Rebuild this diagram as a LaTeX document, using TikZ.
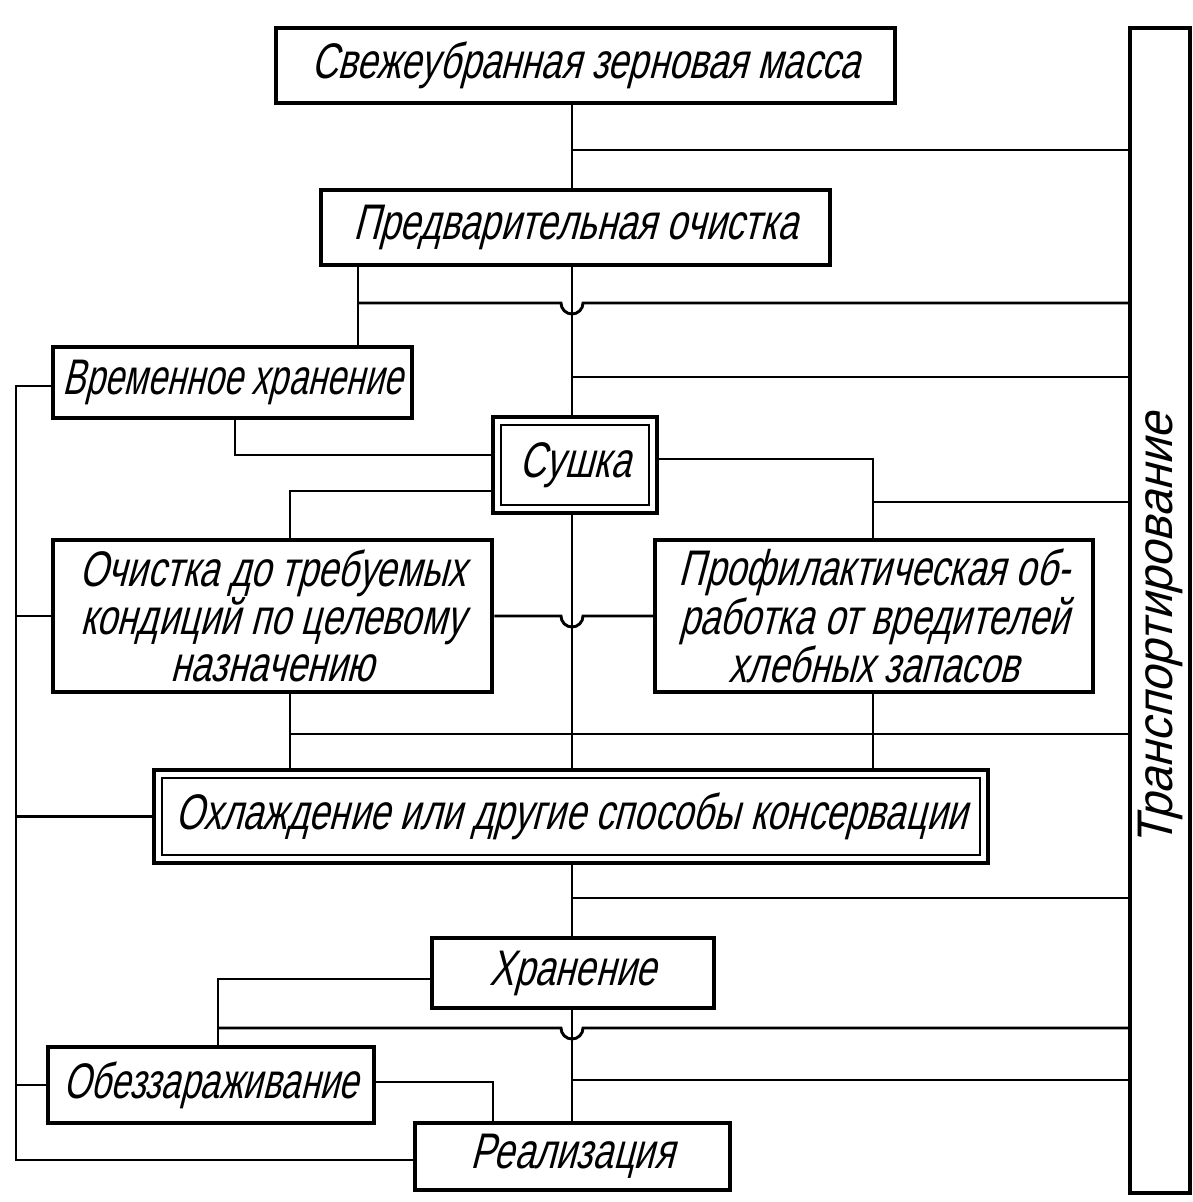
\documentclass[tikz,border=0pt]{standalone}
\usepackage{fontspec}
\newfontfamily\gost{Liberation Sans}[FakeSlant=0.26, FakeStretch=0.73]
\newfontfamily\gostw{Liberation Sans}[FakeSlant=0.26, FakeStretch=0.94]
\begin{document}
\begin{tikzpicture}[x=1pt,y=-1pt,
  box/.style={draw, line width=4.5pt, rectangle, inner sep=0pt, align=center,
    font=\gost\fontsize{50}{47}\selectfont},
  dbl/.style={box, path picture={\draw[line width=2.5pt]
      ([shift={(8pt,-8pt)}]path picture bounding box.north west) rectangle
      ([shift={(-8pt,8pt)}]path picture bounding box.south east);}},
  conn/.style={line width=2.9pt, line join=miter},
  lbl/.style={font=\gostw\fontsize{50}{47}\selectfont, inner sep=0pt}]
\useasboundingbox (0,0) rectangle (1192,1202);
% boxes
\node[box, minimum width=619, minimum height=75] (b1) at (585.5,65.5) {Свежеубранная зерновая масса};
\node[box, minimum width=509, minimum height=75] (b2) at (575.5,227.5) {Предварительная очистка};
\node[box, minimum width=359, minimum height=71] (b3) at (232.5,382.5) {\scalebox{0.94}[1]{Временное хранение}};
\node[dbl, minimum width=164, minimum height=96] (su) at (575,465) {Сушка};
\node[box, minimum width=439, minimum height=152] (b5) at (272.5,616) {Очистка до требуемых\\кондиций по целевому\\назначению};
\node[box, minimum width=438, minimum height=152] (b6) at (874,616) {Профилактическая об-\\работка от вредителей\\хлебных запасов};
\node[dbl, minimum width=834, minimum height=93] (b7) at (571,816.5) {Охлаждение или другие способы консервации};
\node[box, minimum width=282, minimum height=70] (b8) at (573,973) {Хранение};
\node[box, minimum width=326, minimum height=76] (b9) at (211,1085) {\scalebox{0.96}[1]{Обеззараживание}};
\node[box, minimum width=315, minimum height=67] (b10) at (572.5,1156.5) {Реализация};
\node[draw, line width=4pt, minimum width=60, minimum height=1165, inner sep=0pt] (tr) at (1160,610.5) {};
\node[lbl, rotate=90] (trt) at (1160,630) {Транспортирование};
% reference coordinates
\coordinate (sp) at (572,0);
\coordinate (h1) at (572,150);
\coordinate (v1) at (358,303);
\coordinate (h3) at (572,377);
\coordinate (k1) at (235,455);
\coordinate (k2) at (290,491);
\coordinate (k3) at (873,459);
\coordinate (h4) at (873,502);
\coordinate (h5) at (290,734);
\coordinate (h6) at (572,898);
\coordinate (k4) at (218,979);
\coordinate (h7) at (218,1028);
\coordinate (h8) at (572,1080);
\coordinate (k5) at (493,1082);
\coordinate (L1) at (16,386);
\coordinate (L2) at (16,1160);
\coordinate (j1) at (561,303);
\coordinate (j2) at (561,616);
\coordinate (j3) at (561,1028);
% spine
\draw[conn] (sp |- b1.south) -- (sp |- b2.north);
\draw[conn] (sp |- b2.south) -- (sp |- su.north);
\draw[conn] (sp |- su.south) -- (sp |- b7.north);
\draw[conn] (sp |- b7.south) -- (sp |- b8.north);
\draw[conn] (sp |- b8.south) -- (sp |- b10.north);
% to transport
\draw[conn] (h1) -- (h1 -| tr.west);
\draw[conn] (v1 |- b2.south) -- (v1 |- b3.north);
\draw[conn] (v1) -- (j1) arc[start angle=180, end angle=360, radius=11pt] -- (v1 -| tr.west);
\draw[conn] (h3) -- (h3 -| tr.west);
\draw[conn] (h4) -- (h4 -| tr.west);
\draw[conn] (h5) -- (h5 -| tr.west);
\draw[conn] (h6) -- (h6 -| tr.west);
\draw[conn] (h7) -- (j3) arc[start angle=180, end angle=360, radius=11pt] -- (h7 -| tr.west);
\draw[conn] (h8) -- (h8 -| tr.west);
% branches
\draw[conn] (k1 |- b3.south) -- (k1) -- (k1 -| su.west);
\draw[conn] (k2 -| su.west) -- (k2) -- (k2 |- b5.north);
\draw[conn] (k3 -| su.east) -- (k3) -- (k3 |- b6.north);
\draw[conn] (b5.east) -- (j2) arc[start angle=180, end angle=360, radius=11pt] -- (b6.west);
\draw[conn] (h5 |- b5.south) -- (h5 |- b7.north);
\draw[conn] (k3 |- b6.south) -- (k3 |- b7.north);
\draw[conn] (k4 -| b8.west) -- (k4) -- (k4 |- b9.north);
\draw[conn] (k5 -| b9.east) -- (k5) -- (k5 |- b10.north);
% left bus
\draw[conn] (L1 -| b3.west) -- (L1) -- (L2) -- (L2 -| b10.west);
\draw[conn] (L1 |- b5.west) -- (b5.west);
\draw[conn] (L1 |- b7.west) -- (b7.west);
\draw[conn] (L1 |- b9.west) -- (b9.west);
\end{tikzpicture}
\end{document}
